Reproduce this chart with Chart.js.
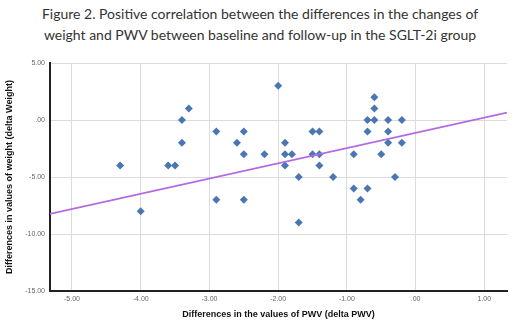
<!DOCTYPE html>
<html lang="en">
<head>
  <meta charset="UTF-8">
  <title>Figure 2</title>
  <style>
    * { margin: 0; padding: 0; }
    body { width: 520px; height: 322px; background: #fff; overflow: hidden; position: relative; }
    .figTitle {
      position: absolute; left: 0; top: 3px; width: 520px;
      text-align: center; font-family: Lato, "Open Sans", sans-serif;
      font-size: 14px; line-height: 21px; color: #333;
    }
    .chartBox { position: absolute; left: 0; top: 0; width: 520px; height: 322px; }
  </style>
</head>
<body>
  <div class="figTitle">Figure 2. Positive correlation between the differences in the changes of<br>weight and PWV between baseline and follow-up in the SGLT-2i group</div>
  <div class="chartBox"><canvas id="myChart" width="520" height="322"></canvas></div>
  <script src="https://cdn.jsdelivr.net/npm/chart.js@4.4.1/dist/chart.umd.min.js"></script>
  <script>
    // delta PWV (x) and delta Weight (y) per patient
    const deltaPWV = [-4.3, -4.0, -3.6, -3.5, -3.4, -3.3, -3.4, -2.9, -2.9, -2.5, -2.6, -2.5, -2.5, -2.2,
      -2.0, -1.9, -1.9, -1.8, -1.9, -1.7, -1.7, -1.5, -1.4, -1.5, -1.4, -1.4, -1.2, -0.9, -0.9, -0.7,
      -0.8, -0.6, -0.6, -0.7, -0.6, -0.4, -0.2, -0.7, -0.4, -0.4, -0.2, -0.5, -0.3];
    const deltaWeight = [-4, -8, -4, -4, 0, 1, -2, -1, -7, -1, -2, -3, -7, -3,
      3, -2, -3, -3, -4, -5, -9, -1, -1, -3, -3, -4, -5, -3, -6, -6,
      -7, 2, 1, 0, 0, 0, 0, -1, -1, -2, -2, -3, -5];

    // fit line end points
    const fitX = [-5.32, 1.33];
    const fitY = [-8.24, 0.65];

    const xRange = [-5.32, 1.33];
    const yRange = [-15, 5];

    const fmt = (v) => {
      let s = Number(v).toFixed(2);
      return s.replace(/^(-?)0\./, '$1.');
    };

    const points = deltaPWV.map((x, i) => ({ x: x, y: deltaWeight[i] }));
    const linePts = fitX.map((x, i) => ({ x: x, y: fitY[i] }));

    const tickFont = { family: "'Liberation Sans', Arial, sans-serif", size: 7 };
    const titleFont = { family: "'Liberation Sans', Arial, sans-serif", size: 9, weight: 'bold' };

    const ctx = document.getElementById('myChart').getContext('2d');
    const myChart = new Chart(ctx, {
      type: 'scatter',
      data: {
        datasets: [
          {
            label: 'Fit',
            type: 'line',
            data: linePts,
            borderColor: '#b36ae2',
            borderWidth: 1.6,
            pointRadius: 0,
            fill: false
          },
          {
            label: 'Patients',
            data: points,
            pointStyle: 'rectRot',
            pointRadius: 4,
            pointBackgroundColor: '#4a76b4',
            pointBorderColor: '#4a76b4',
            pointBorderWidth: 0
          }
        ]
      },
      options: {
        responsive: false,
        animation: false,
        layout: { padding: { top: 63, right: 13, left: 0, bottom: 0 } },
        plugins: { legend: { display: false }, tooltip: { enabled: false } },
        scales: {
          x: {
            type: 'linear',
            min: xRange[0],
            max: xRange[1],
            afterFit: (scale) => { scale.height = 31; },
            ticks: { stepSize: 1, includeBounds: false, callback: fmt, font: tickFont, color: '#666', padding: 4, maxRotation: 0 },
            grid: { color: '#dcdcdc', drawTicks: false },
            border: { color: '#222', width: 2 },
            title: { display: true, text: 'Differences in the values of PWV (delta PWV)', font: titleFont, color: '#111', padding: { top: 4, bottom: 2 } }
          },
          y: {
            type: 'linear',
            min: yRange[0],
            max: yRange[1],
            afterFit: (scale) => { scale.width = 50; },
            ticks: { stepSize: 5, callback: fmt, font: tickFont, color: '#666', padding: 5 },
            grid: { color: '#dcdcdc', drawTicks: false },
            border: { color: '#222', width: 2 },
            title: { display: true, text: 'Differences in values of weight (delta Weight)', font: titleFont, color: '#111', padding: { top: 4, bottom: 2 } }
          }
        }
      }
    });
  </script>
</body>
</html>
